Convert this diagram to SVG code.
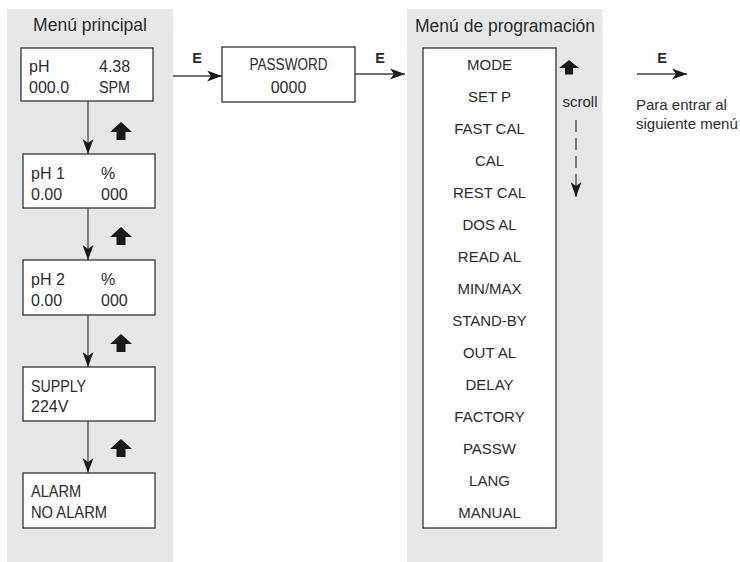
<svg xmlns="http://www.w3.org/2000/svg" width="740" height="562" viewBox="0 0 740 562">
<defs>
<marker id="ah" markerUnits="userSpaceOnUse" markerWidth="16" markerHeight="11" refX="15" refY="5.5" orient="auto" viewBox="0 0 16 11"><path d="M0,0 L15,5.5 L0,11 L4,5.5 z" fill="#1a1a1a"/></marker>
<path id="up" d="M0,0 L11,10 L4.5,10 L4.5,18 L-4.5,18 L-4.5,10 L-11,10 z"/>
</defs>
<style>
.panel{fill:#e5e8e9}
.box{fill:#fff;stroke:#333;stroke-width:1.3}
.t{font-family:"Liberation Sans",Arial,sans-serif;fill:#2b2b2b}
.title{font-size:17.5px;text-anchor:middle}
.bt{font-size:16px}
.c{text-anchor:middle}
.mi{font-size:15px;text-anchor:middle}
.e{font-weight:bold;font-size:14.5px;text-anchor:middle}
.lg{font-size:15px}
.conn{stroke:#444;stroke-width:1.3;fill:none}
.blk{fill:#1a1a1a}
</style>
<rect class="panel" x="7" y="9" width="166" height="553"/>
<rect class="panel" x="407" y="9" width="195.5" height="553"/>
<g id="panel-main"><text class="t title" x="90" y="31">Menú principal</text></g>
<g id="panel-prog"><text class="t title" x="505" y="31.5">Menú de programación</text></g>
<g id="box-ph">
<rect class="box" x="21" y="48" width="132" height="53"/>
<text class="t bt" x="29" y="72">pH</text><text class="t bt" x="99" y="72">4.38</text>
<text class="t bt" x="29" y="93">000.0</text><text class="t bt" x="99" y="93" textLength="31" lengthAdjust="spacingAndGlyphs">SPM</text>
</g>
<g id="box-ph1">
<rect class="box" x="23" y="154" width="132" height="54"/>
<text class="t bt" x="31" y="179">pH 1</text><text class="t bt" x="101" y="179">%</text>
<text class="t bt" x="31" y="200">0.00</text><text class="t bt" x="101" y="200">000</text>
</g>
<g id="box-ph2">
<rect class="box" x="23" y="260" width="132" height="55"/>
<text class="t bt" x="31" y="285">pH 2</text><text class="t bt" x="101" y="285">%</text>
<text class="t bt" x="31" y="306">0.00</text><text class="t bt" x="101" y="306">000</text>
</g>
<g id="box-supply">
<rect class="box" x="23" y="367" width="132" height="54"/>
<text class="t bt" x="31" y="392" textLength="55" lengthAdjust="spacingAndGlyphs">SUPPLY</text>
<text class="t bt" x="31" y="412">224V</text>
</g>
<g id="box-alarm">
<rect class="box" x="23" y="473" width="132" height="55"/>
<text class="t bt" x="31" y="497" textLength="50" lengthAdjust="spacingAndGlyphs">ALARM</text>
<text class="t bt" x="31" y="518" textLength="76" lengthAdjust="spacingAndGlyphs">NO ALARM</text>
</g>
<g id="box-password">
<rect class="box" x="222" y="47" width="133" height="55"/>
<text class="t bt c" x="288.5" y="70" textLength="78" lengthAdjust="spacingAndGlyphs">PASSWORD</text>
<text class="t bt c" x="288.5" y="93">0000</text>
</g>
<g id="box-menu">
<rect class="box" x="423" y="48" width="133" height="480"/>
<text class="t mi" x="489.5" y="70">MODE</text>
<text class="t mi" x="489.5" y="102">SET P</text>
<text class="t mi" x="489.5" y="134">FAST CAL</text>
<text class="t mi" x="489.5" y="166">CAL</text>
<text class="t mi" x="489.5" y="198">REST CAL</text>
<text class="t mi" x="489.5" y="230">DOS AL</text>
<text class="t mi" x="489.5" y="262">READ AL</text>
<text class="t mi" x="489.5" y="294">MIN/MAX</text>
<text class="t mi" x="489.5" y="326">STAND-BY</text>
<text class="t mi" x="489.5" y="358">OUT AL</text>
<text class="t mi" x="489.5" y="390">DELAY</text>
<text class="t mi" x="489.5" y="422">FACTORY</text>
<text class="t mi" x="489.5" y="454">PASSW</text>
<text class="t mi" x="489.5" y="486">LANG</text>
<text class="t mi" x="489.5" y="518">MANUAL</text>
</g>
<g id="legend">
<text class="t lg" x="636" y="110">Para entrar al</text>
<text class="t lg" x="636" y="129">siguiente menú</text>
</g>
<g id="connectors">
<line class="conn" x1="88" y1="101" x2="88" y2="154" marker-end="url(#ah)"/>
<line class="conn" x1="88" y1="208" x2="88" y2="260" marker-end="url(#ah)"/>
<line class="conn" x1="88" y1="315" x2="88" y2="367" marker-end="url(#ah)"/>
<line class="conn" x1="88" y1="421" x2="88" y2="473" marker-end="url(#ah)"/>
<use href="#up" class="blk" x="121" y="122"/>
<use href="#up" class="blk" x="121" y="227"/>
<use href="#up" class="blk" x="121" y="334"/>
<use href="#up" class="blk" x="121" y="439"/>
<line class="conn" x1="173" y1="76" x2="222" y2="76" marker-end="url(#ah)"/>
<text class="t e" x="197" y="63">E</text>
<line class="conn" x1="355" y1="74" x2="405" y2="74" marker-end="url(#ah)"/>
<text class="t e" x="380" y="63">E</text>
<use href="#up" class="blk" transform="translate(569 60) scale(0.9 0.8)"/>
<text class="t lg" x="580" y="107" text-anchor="middle">scroll</text>
<line class="conn" x1="576" y1="120" x2="576" y2="197" stroke-dasharray="12 6" marker-end="url(#ah)"/>
<line class="conn" x1="637" y1="74" x2="687" y2="74" marker-end="url(#ah)"/>
<text class="t e" x="662" y="63">E</text>
</g>
</svg>
